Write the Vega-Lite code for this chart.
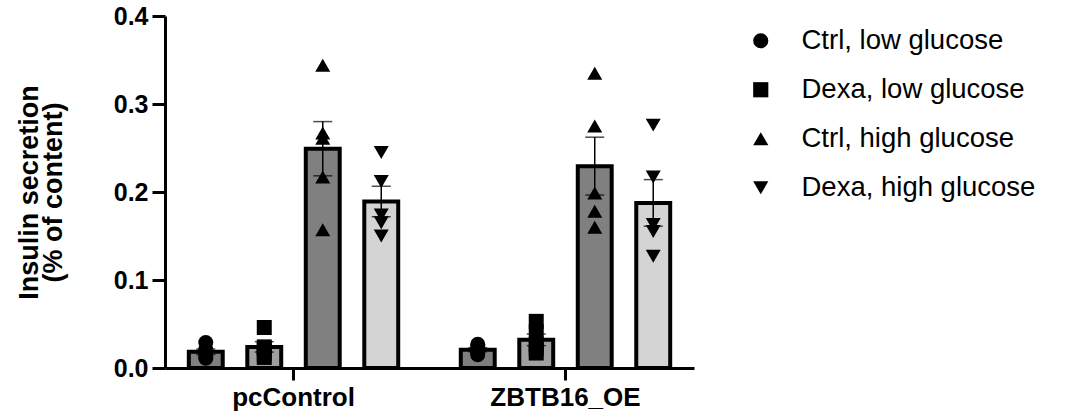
{
  "$schema": "https://vega.github.io/schema/vega-lite/v6.json",
  "width": 529,
  "height": 352,
  "autosize": {"type": "none"},
  "padding": {"left": 165, "top": 16, "right": 375, "bottom": 51},
  "config": {
    "view": {"stroke": null},
    "font": "Liberation Sans",
    "axis": {"domainColor": "black", "domainWidth": 3, "tickColor": "black", "tickWidth": 3, "labelColor": "black", "titleColor": "black", "labelFont": "Liberation Sans", "titleFont": "Liberation Sans", "labelFontWeight": "bold", "grid": false},
    "axisX": {"tickSize": 12, "labelFontSize": 26, "labelPadding": 4, "labelAngle": 0},
    "legend": {"padding": 0}
  },
  "data": {
    "values": [
      {"group": "pcControl", "condition": "Ctrl, low glucose", "value": 0.029},
      {"group": "pcControl", "condition": "Ctrl, low glucose", "value": 0.021},
      {"group": "pcControl", "condition": "Ctrl, low glucose", "value": 0.018},
      {"group": "pcControl", "condition": "Ctrl, low glucose", "value": 0.013},
      {"group": "pcControl", "condition": "Ctrl, low glucose", "value": 0.011},
      {"group": "pcControl", "condition": "Dexa, low glucose", "value": 0.046},
      {"group": "pcControl", "condition": "Dexa, low glucose", "value": 0.024},
      {"group": "pcControl", "condition": "Dexa, low glucose", "value": 0.022},
      {"group": "pcControl", "condition": "Dexa, low glucose", "value": 0.016},
      {"group": "pcControl", "condition": "Dexa, low glucose", "value": 0.012},
      {"group": "pcControl", "condition": "Ctrl, high glucose", "value": 0.344},
      {"group": "pcControl", "condition": "Ctrl, high glucose", "value": 0.267},
      {"group": "pcControl", "condition": "Ctrl, high glucose", "value": 0.261},
      {"group": "pcControl", "condition": "Ctrl, high glucose", "value": 0.217},
      {"group": "pcControl", "condition": "Ctrl, high glucose", "value": 0.157},
      {"group": "pcControl", "condition": "Dexa, high glucose", "value": 0.245},
      {"group": "pcControl", "condition": "Dexa, high glucose", "value": 0.212},
      {"group": "pcControl", "condition": "Dexa, high glucose", "value": 0.174},
      {"group": "pcControl", "condition": "Dexa, high glucose", "value": 0.165},
      {"group": "pcControl", "condition": "Dexa, high glucose", "value": 0.150},
      {"group": "ZBTB16_OE", "condition": "Ctrl, low glucose", "value": 0.027},
      {"group": "ZBTB16_OE", "condition": "Ctrl, low glucose", "value": 0.025},
      {"group": "ZBTB16_OE", "condition": "Ctrl, low glucose", "value": 0.020},
      {"group": "ZBTB16_OE", "condition": "Ctrl, low glucose", "value": 0.017},
      {"group": "ZBTB16_OE", "condition": "Ctrl, low glucose", "value": 0.015},
      {"group": "ZBTB16_OE", "condition": "Dexa, low glucose", "value": 0.053},
      {"group": "ZBTB16_OE", "condition": "Dexa, low glucose", "value": 0.041},
      {"group": "ZBTB16_OE", "condition": "Dexa, low glucose", "value": 0.027},
      {"group": "ZBTB16_OE", "condition": "Dexa, low glucose", "value": 0.022},
      {"group": "ZBTB16_OE", "condition": "Dexa, low glucose", "value": 0.017},
      {"group": "ZBTB16_OE", "condition": "Ctrl, high glucose", "value": 0.335},
      {"group": "ZBTB16_OE", "condition": "Ctrl, high glucose", "value": 0.275},
      {"group": "ZBTB16_OE", "condition": "Ctrl, high glucose", "value": 0.199},
      {"group": "ZBTB16_OE", "condition": "Ctrl, high glucose", "value": 0.178},
      {"group": "ZBTB16_OE", "condition": "Ctrl, high glucose", "value": 0.160},
      {"group": "ZBTB16_OE", "condition": "Dexa, high glucose", "value": 0.276},
      {"group": "ZBTB16_OE", "condition": "Dexa, high glucose", "value": 0.217},
      {"group": "ZBTB16_OE", "condition": "Dexa, high glucose", "value": 0.163},
      {"group": "ZBTB16_OE", "condition": "Dexa, high glucose", "value": 0.155},
      {"group": "ZBTB16_OE", "condition": "Dexa, high glucose", "value": 0.127}
    ]
  },
  "encoding": {
    "x": {"field": "group", "type": "nominal", "sort": ["pcControl", "ZBTB16_OE"], "scale": {"paddingInner": 0.215, "paddingOuter": 0.08}, "title": null},
    "xOffset": {"field": "condition", "type": "nominal", "sort": ["Ctrl, low glucose", "Dexa, low glucose", "Ctrl, high glucose", "Dexa, high glucose"], "scale": {"paddingInner": 0.42, "paddingOuter": 0.035}}
  },
  "layer": [
    {
      "mark": {"type": "bar", "stroke": "black", "strokeWidth": 4},
      "encoding": {
        "y": {"aggregate": "mean", "field": "value", "type": "quantitative", "scale": {"domain": [0, 0.4], "nice": false}, "title": ["Insulin secretion", "(% of content)"],
          "axis": {"values": [0, 0.1, 0.2, 0.3, 0.4], "format": ".1f", "tickSize": 13, "labelFontSize": 25, "labelPadding": 4, "titleFontSize": 27, "titleFontWeight": "bold", "titleLineHeight": 24, "titlePadding": 46}},
        "fill": {"field": "condition", "type": "nominal", "sort": ["Ctrl, low glucose", "Dexa, low glucose", "Ctrl, high glucose", "Dexa, high glucose"], "scale": {"range": ["#7f7f7f", "#a0a0a0", "#808080", "#d4d4d4"]}, "legend": null}
      }
    },
    {
      "mark": {"type": "errorbar", "extent": "stderr", "ticks": {"size": 19, "thickness": 1.5, "color": "black"}, "rule": {"strokeWidth": 1.5, "color": "black"}},
      "encoding": {
        "y": {"field": "value", "type": "quantitative", "title": ["Insulin secretion", "(% of content)"]}
      }
    },
    {
      "mark": {"type": "point", "filled": true, "color": "black", "opacity": 1, "size": 225},
      "encoding": {
        "y": {"field": "value", "type": "quantitative", "title": ["Insulin secretion", "(% of content)"]},
        "shape": {"field": "condition", "type": "nominal", "scale": {"domain": ["Ctrl, low glucose", "Dexa, low glucose", "Ctrl, high glucose", "Dexa, high glucose"], "range": ["circle", "square", "triangle-up", "triangle-down"]},
          "legend": {"title": null, "orient": "none", "legendX": 582, "legendY": 11, "labelFontSize": 27.5, "labelFont": "Liberation Sans", "labelColor": "black", "labelLimit": 0, "symbolSize": 230, "symbolFillColor": "black", "symbolStrokeColor": "black", "rowPadding": 20, "labelOffset": 27}}
      }
    }
  ]
}
